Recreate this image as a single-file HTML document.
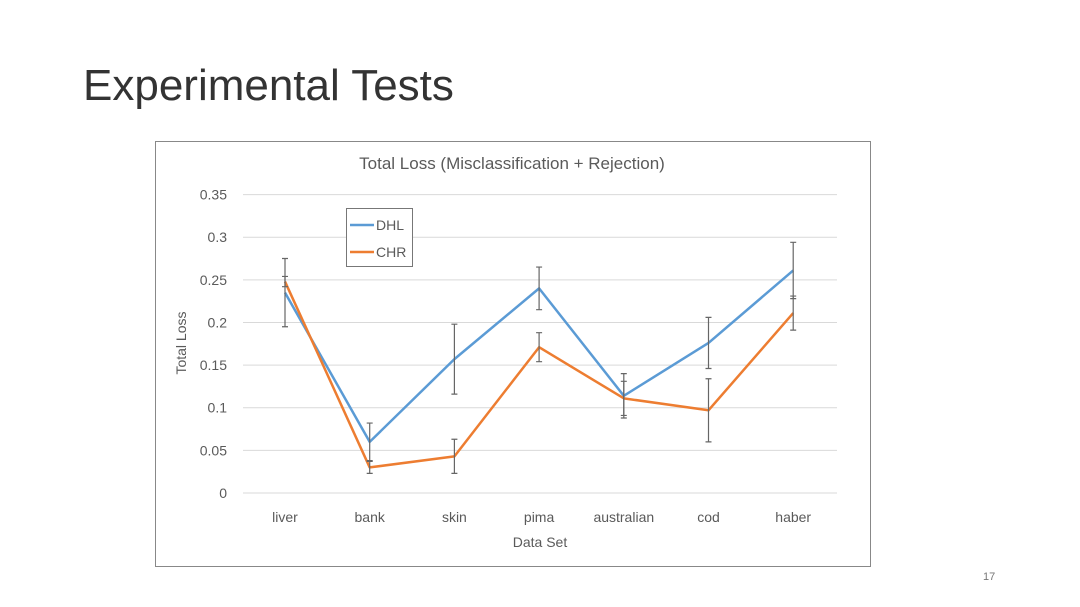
<!DOCTYPE html>
<html><head><meta charset="utf-8"><style>
body{margin:0;width:1080px;height:607px;background:#fff;font-family:"Liberation Sans",sans-serif;overflow:hidden;position:relative}
#title{position:absolute;left:83px;top:61px;font-size:44px;color:#333;font-weight:normal}
#pg{position:absolute;left:983px;top:571px;font-size:11px;color:#777}
svg{position:absolute;left:0;top:0}
</style></head><body>
<div id="title">Experimental Tests</div>
<div id="pg">17</div>
<svg id="chart" width="1080" height="607"></svg>
<script>
const categories=["liver","bank","skin","pima","australian","cod","haber"];
const dhl=[0.235,0.06,0.157,0.24,0.114,0.176,0.261];
const chr=[0.248,0.03,0.043,0.171,0.111,0.097,0.211];
const dhlErr=[0.04,0.022,0.041,0.025,0.026,0.03,0.033];
const chrErr=[0.006,0.007,0.02,0.017,0.02,0.037,0.02];
const yTicks=[0,0.05,0.1,0.15,0.2,0.25,0.3,0.35];
const NS="http://www.w3.org/2000/svg";
const svg=document.getElementById('chart');
const y=v=>493-v*852.6;
const x=i=>285+i*84.7;
function el(t,a,txt){const e=document.createElementNS(NS,t);for(const k in a)e.setAttribute(k,a[k]);if(txt!=null)e.textContent=txt;svg.appendChild(e);return e;}
let e=el('rect',{x:155.5,y:141.5,width:715,height:425,fill:'#fff',stroke:'#888','stroke-width':1});


yTicks.forEach(t=>{
 let g=el('line',{x1:243,x2:837,y1:y(t),y2:y(t),stroke:'#d9d9d9','stroke-width':1});
 
 
 let l=el('text',{x:227,y:y(t)+5,'text-anchor':'end','font-size':14,fill:'#5a5a5a'},String(t));
 
 
});
categories.forEach((c,i)=>{
 let l=el('text',{x:x(i),y:522,'text-anchor':'middle','font-size':14,fill:'#5a5a5a'},c);
 
 
});
e=el('text',{x:512,y:169,'text-anchor':'middle','font-size':17,fill:'#5a5a5a'},'Total Loss (Misclassification + Rejection)');


e=el('text',{x:540,y:547,'text-anchor':'middle','font-size':14,fill:'#5a5a5a'},'Data Set');


e=el('text',{x:186,y:343,'text-anchor':'middle','font-size':14,fill:'#5a5a5a',transform:'rotate(-90 186 343)'},'Total Loss');


function series(vals,color,name){
 let p=el('polyline',{points:vals.map((v,i)=>x(i)+','+y(v)).join(' '),fill:'none',stroke:color,'stroke-width':2.5,'stroke-linejoin':'round'});
 
 
}
function errs(vals,errv,name){
 vals.forEach((v,i)=>{
  const g=el('path',{d:`M${x(i)},${y(v+errv[i])}V${y(v-errv[i])}M${x(i)-3},${y(v+errv[i])}h6M${x(i)-3},${y(v-errv[i])}h6`,stroke:'#666','stroke-width':1.2,fill:'none'});
  
  
 });
}
series(dhl,'#5b9bd5','dhl-line');
series(chr,'#ed7d31','chr-line');
errs(dhl,dhlErr,'dhl-error-bar');
errs(chr,chrErr,'chr-error-bar');
e=el('rect',{x:346.5,y:208.5,width:66,height:58,fill:'#fff',stroke:'#777','stroke-width':1});


[['DHL','#5b9bd5',225],['CHR','#ed7d31',252]].forEach(([n,c,yy])=>{
 let l=el('line',{x1:350,x2:374,y1:yy,y2:yy,stroke:c,'stroke-width':2.5});
 
 
 let t=el('text',{x:376,y:yy+5,'font-size':14,fill:'#5a5a5a'},n);
 
 
});
</script>
</body></html>
